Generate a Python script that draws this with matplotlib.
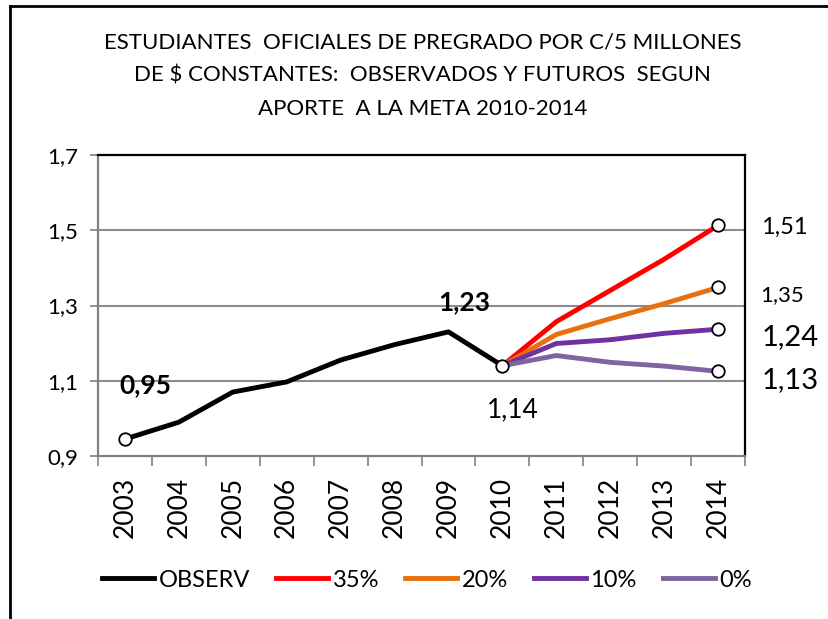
import matplotlib.pyplot as plt
from matplotlib.lines import Line2D

plt.rcParams['font.family'] = ['Lato', 'DejaVu Sans']

years = ['2003', '2004', '2005', '2006', '2007', '2008', '2009', '2010', '2011', '2012', '2013', '2014']
observ = [0.945, 0.99, 1.07, 1.097, 1.155, 1.196, 1.23, 1.14]
proj_years = ['2010', '2011', '2012', '2013', '2014']
p35 = [1.14, 1.257, 1.34, 1.423, 1.513]
p20 = [1.14, 1.223, 1.265, 1.305, 1.348]
p10 = [1.14, 1.199, 1.209, 1.226, 1.237]
p0 = [1.14, 1.167, 1.149, 1.139, 1.125]

series = [('OBSERV', observ, '#000000'), ('35%', p35, '#ff0000'), ('20%', p20, '#e8700e'),
          ('10%', p10, '#7030a0'), ('0%', p0, '#8064a2')]

fig = plt.figure(figsize=(8.29, 6.19), dpi=100)
ax = fig.add_axes([0.1182, 0.2633, 0.7805, 0.4863])

xi = {y: i for i, y in enumerate(years)}
for name, vals, col in series:
    xs = [xi[y] for y in (years[:len(vals)] if name == 'OBSERV' else proj_years)]
    ax.plot(xs, vals, color=col, lw=3.5, solid_capstyle='butt', zorder=3 if name == 'OBSERV' else 2)
    if name == 'OBSERV':
        ax.plot([xs[0], xs[-1]], [vals[0], vals[-1]], 'o', ms=9, mfc='white', mec='black', mew=1.3, zorder=5)
    else:
        ax.plot(xs[-1], vals[-1], 'o', ms=9, mfc='white', mec='black', mew=1.3, zorder=5)

ax.set_xlim(-0.5, len(years) - 0.5)
ax.set_ylim(0.9, 1.7)
ax.set_yticks([0.9, 1.1, 1.3, 1.5, 1.7])
ax.set_yticklabels(['0,9', '1,1', '1,3', '1,5', '1,7'], fontsize=16)
ax.set_xticks(range(len(years)))
ax.set_xticklabels(years, rotation=90, fontsize=19)
ax.set_xticks([i - 0.5 for i in range(len(years) + 1)], minor=True)
ax.tick_params(axis='x', which='major', length=0, pad=15)
ax.tick_params(axis='x', which='minor', length=7, color='#808080', width=1.2)
ax.tick_params(axis='y', length=6, color='#808080', width=1.2, pad=8)
for yv in [1.1, 1.3, 1.5]:
    ax.axhline(yv, color='#8c8c8c', lw=1.5, zorder=1)
ax.spines['left'].set_color('#808080')
ax.spines['bottom'].set_color('#808080')
for s in ax.spines.values():
    s.set_linewidth(1.6)
ax.spines['top'].set_color('black')
ax.spines['right'].set_color('black')

# data labels
ax.text(0.37, 1.089, '0,95', fontsize=19, fontweight='bold', ha='center', va='center')
ax.text(6.3, 1.31, '1,23', fontsize=19, fontweight='bold', ha='center', va='center')
ax.text(7.2, 1.023, '1,14', fontsize=19, ha='center', va='center')
ax.text(11.8, 1.508, '1,51', fontsize=17, ha='left', va='center', clip_on=False)
ax.text(11.78, 1.329, '1,35', fontsize=16, ha='left', va='center', clip_on=False)
ax.text(11.8, 1.217, '1,24', fontsize=21, ha='left', va='center', clip_on=False)
ax.text(11.8, 1.103, '1,13', fontsize=21, ha='left', va='center', clip_on=False)

fig.text(0.51, 0.948, 'ESTUDIANTES  OFICIALES DE PREGRADO POR C/5 MILLONES\n'
         'DE $ CONSTANTES:  OBSERVADOS Y FUTUROS  SEGUN\nAPORTE  A LA META 2010-2014',
         ha='center', va='top', fontsize=16, linespacing=1.85)

handles = [Line2D([], [], color=c, lw=3.5) for _, _, c in series]
fig.legend(handles, [n for n, _, _ in series], loc='center', bbox_to_anchor=(0.515, 0.063),
           ncol=5, frameon=False, fontsize=17, handlelength=2.2, handletextpad=0.2, columnspacing=1.1)

# chart frame
fig.add_artist(Line2D([0.012, 0.012], [0, 0.99], color='black', lw=2, transform=fig.transFigure))
fig.add_artist(Line2D([0.012, 1.0], [0.99, 0.99], color='black', lw=2, transform=fig.transFigure))

fig.savefig('out.png', dpi=100)
